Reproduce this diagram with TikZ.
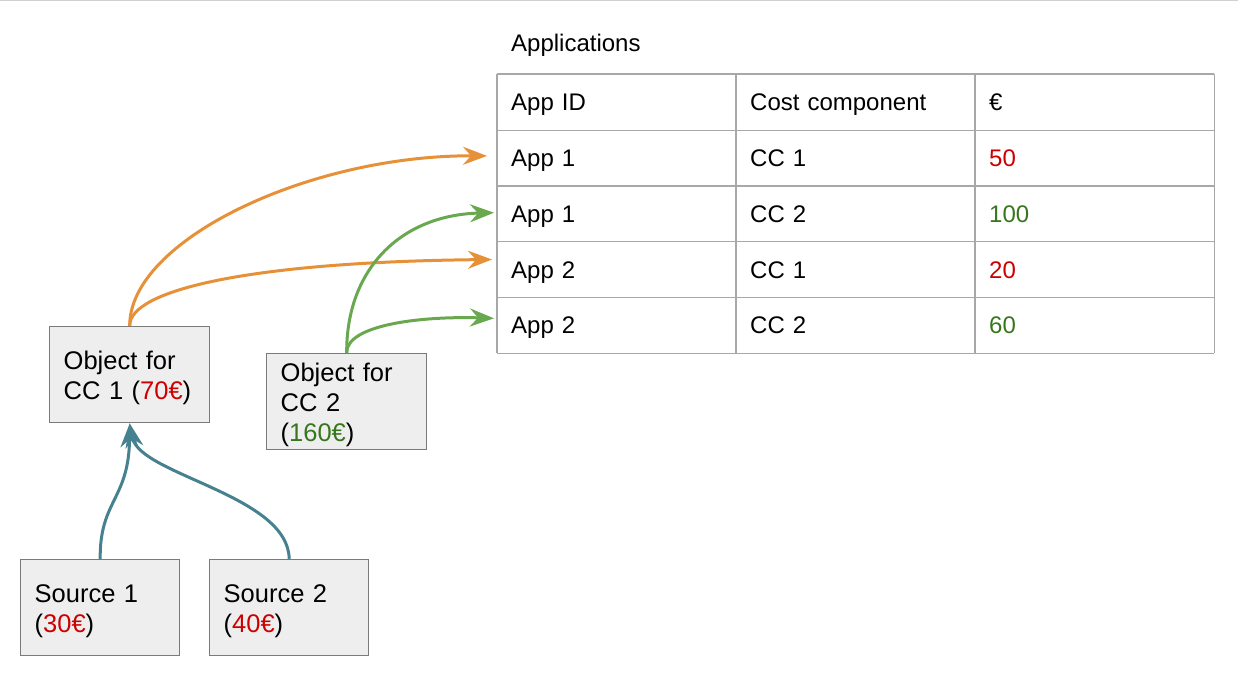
\documentclass[tikz,border=0pt]{standalone}
\usepackage{fontspec}
\setmainfont{Liberation Sans}
\usetikzlibrary{arrows.meta}
\definecolor{orangeA}{HTML}{E69138}
\definecolor{greenA}{HTML}{6AA84F}
\definecolor{tealA}{HTML}{45818E}
\definecolor{redT}{HTML}{CC0000}
\definecolor{greenT}{HTML}{38761D}
\definecolor{boxfill}{HTML}{EEEEEE}
\definecolor{boxline}{HTML}{7A7A7A}
\definecolor{gridline}{HTML}{A8A8A8}
\definecolor{topline}{HTML}{D0D0D0}
\newcommand{\mytopstrut}{\rule{0pt}{24.6pt}}
\begin{document}
\begin{tikzpicture}[x=1pt,y=-1pt,
  box/.style={draw=boxline, line width=1.4pt, fill=boxfill, anchor=north west,
    minimum width=160pt, minimum height=96pt, text width=132pt, inner xsep=14pt,
    inner ysep=0pt, align=left, font=\fontsize{25.5}{30}\selectfont},
  cell/.style={anchor=north west,
    minimum height=55.8pt, text width=211pt, inner xsep=14pt, inner ysep=0pt,
    text height=17pt, text depth=0pt,
    align=left, font=\fontsize{24}{28}\selectfont},
  grid/.style={draw=gridline, line width=1.3pt},
  conn/.style={line width=3pt, -{Stealth[length=24pt,width=18pt,inset=8pt]}},
  title/.style={anchor=west, inner sep=0pt, font=\fontsize{24}{28}\selectfont}]
\useasboundingbox (0,0) rectangle (1238,686);
\draw[topline, line width=2pt] (0,0) -- (1238,0);

\node[title] (ttl) at (511,45) {Applications};

% table
\node[cell] (h1) at (497,74) {App ID};
\node[cell] (h2) at (736,74) {Cost component};
\node[cell] (h3) at (975,74) {€};
\node[cell] (r1) at (497,129.8) {App 1};
\node[cell] (r1b) at (736,129.8) {CC 1};
\node[cell] (r1c) at (975,129.8) {\textcolor{redT}{50}};
\node[cell] (r2) at (497,185.6) {App 1};
\node[cell] (r2b) at (736,185.6) {CC 2};
\node[cell] (r2c) at (975,185.6) {\textcolor{greenT}{100}};
\node[cell] (r3) at (497,241.4) {App 2};
\node[cell] (r3b) at (736,241.4) {CC 1};
\node[cell] (r3c) at (975,241.4) {\textcolor{redT}{20}};
\node[cell] (r4) at (497,297.2) {App 2};
\node[cell] (r4b) at (736,297.2) {CC 2};
\node[cell] (r4c) at (975,297.2) {\textcolor{greenT}{60}};
\draw[grid] (h1.north west) -- (h3.north east);
\draw[grid] (h1.south west) -- (h3.south east);
\draw[grid] (r1.south west) -- (r1c.south east);
\draw[grid] (r2.south west) -- (r2c.south east);
\draw[grid] (r3.south west) -- (r3c.south east);
\draw[grid] (r4.south west) -- (r4c.south east);
\draw[grid] (h1.north west) -- (r4.south west);
\draw[grid] (h2.north west) -- (r4b.south west);
\draw[grid] (h3.north west) -- (r4c.south west);
\draw[grid] (h3.north east) -- (r4c.south east);

% boxes
\node[box] (obj1) at (49,326) {\mytopstrut Object for\\CC 1 (\textcolor{redT}{70€})};
\node[box] (obj2) at (266,353) {\mytopstrut Object for\\CC 2\\(\textcolor{greenT}{160€})};
\node[box, minimum width=159pt, text width=131pt] (src1) at (20,559) {\mytopstrut Source 1\\(\textcolor{redT}{30€})};
\node[box, minimum width=159pt, text width=131pt] (src2) at (209,559) {\mytopstrut Source 2\\(\textcolor{redT}{40€})};

% connectors
\draw[conn, orangeA] (obj1.north) .. controls (129,240) and (310,155) .. ([xshift=-10pt,yshift=2pt]r1.west);
\draw[conn, orangeA] (obj1.north) .. controls (129,290) and (250,262) .. ([xshift=-5pt,yshift=10pt]r3.west);
\draw[conn, greenA] (obj2.north) .. controls (346,270) and (400,215) .. ([xshift=-3pt,yshift=1pt]r2.west);
\draw[conn, greenA] (obj2.north) .. controls (346,325) and (420,316) .. ([xshift=-3pt,yshift=7pt]r4.west);
\draw[conn, tealA] (src1.north) .. controls (99.5,500) and (129,500) .. (obj1.south);
\draw[conn, tealA] (src2.north) .. controls (288.5,495) and (140,475) .. (obj1.south);
\end{tikzpicture}
\end{document}
